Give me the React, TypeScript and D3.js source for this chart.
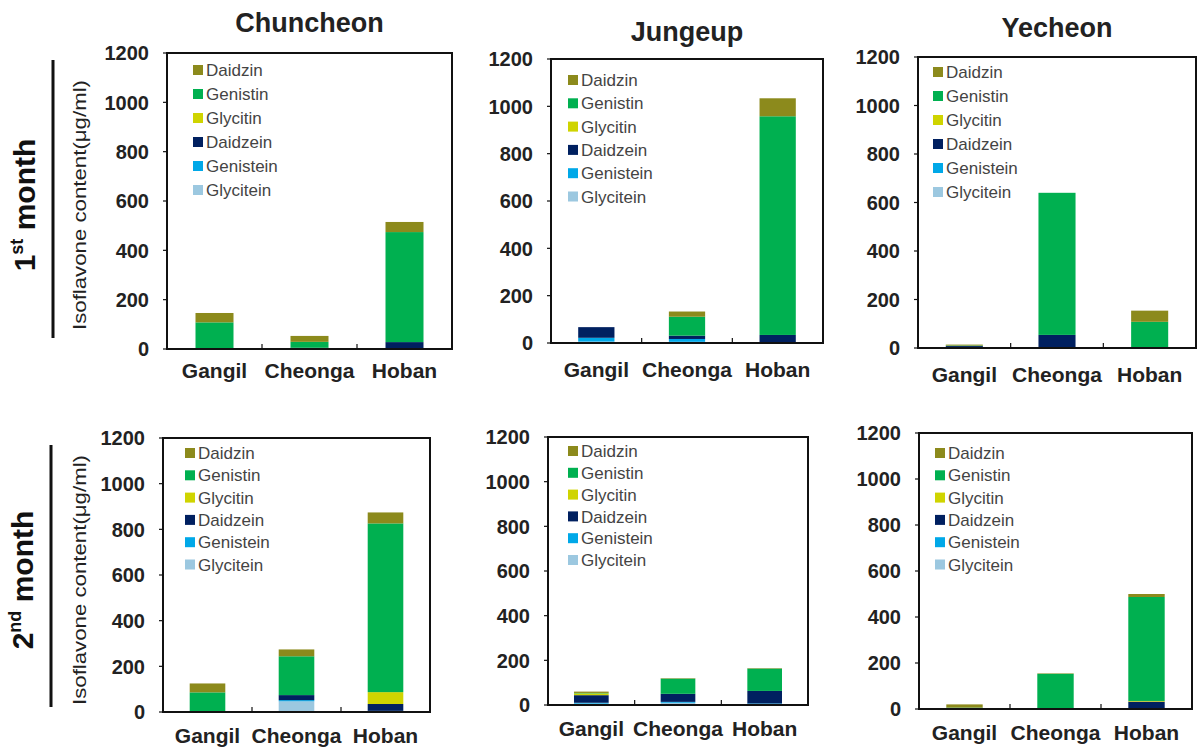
import React from 'react'
import * as d3 from 'd3'

const varieties = ['Gangil', 'Cheonga', 'Hoban']
const compounds = ['Daidzin', 'Genistin', 'Glycitin', 'Daidzein', 'Genistein', 'Glycitein']
const compoundColors = ['#8c8a1c', '#00b050', '#cfd400', '#002060', '#00a8e8', '#9cc8e0']
const yTicks = [0, 200, 400, 600, 800, 1000, 1200]

// rows follow compounds order, columns follow varieties
const chuncheon1st = [
  [38, 24, 41],
  [105, 24, 446],
  [0, 0, 0],
  [2, 3, 25],
  [1, 2, 3],
  [0, 0, 0],
]
const jungeup1st = [
  [0, 22, 76],
  [0, 80, 924],
  [0, 0, 0],
  [45, 14, 30],
  [16, 12, 4],
  [6, 5, 0],
]
const yecheon1st = [
  [4, 0, 46],
  [2, 586, 106],
  [0, 0, 0],
  [8, 50, 0],
  [0, 4, 2],
  [0, 0, 0],
]
const chuncheon2nd = [
  [39, 30, 48],
  [85, 170, 739],
  [0, 0, 52],
  [0, 22, 30],
  [0, 5, 3],
  [1, 47, 2],
]
const jungeup2nd = [
  [6, 2, 2],
  [2, 68, 100],
  [8, 0, 0],
  [34, 36, 56],
  [4, 4, 3],
  [6, 10, 4],
]
const yecheon2nd = [
  [14, 2, 13],
  [2, 150, 452],
  [4, 3, 3],
  [0, 0, 32],
  [0, 0, 0],
  [0, 0, 0],
]

const FONT = '"Liberation Sans", Arial, Helvetica, sans-serif'

type Panel = {
  values: number[][]
  title?: string
  titleY?: number
  left: number; top: number; right: number; bottom: number
  lgX: number; lgY: number; lgStep: number
  labelY: number
}

const panels: Panel[] = [
  { values: chuncheon1st, title: 'Chuncheon', titleY: 32, left: 167, top: 53, right: 452, bottom: 349, lgX: 26, lgY: 17, lgStep: 24, labelY: 378 },
  { values: jungeup1st, title: 'Jungeup', titleY: 41, left: 551, top: 59, right: 823, bottom: 343, lgX: 17, lgY: 21, lgStep: 23.3, labelY: 377 },
  { values: yecheon1st, title: 'Yecheon', titleY: 37, left: 918, top: 57, right: 1196, bottom: 348, lgX: 15, lgY: 15, lgStep: 24, labelY: 382 },
  { values: chuncheon2nd, left: 163, top: 438, right: 430, bottom: 712, lgX: 22, lgY: 15, lgStep: 22.3, labelY: 743 },
  { values: jungeup2nd, left: 548, top: 437, right: 808, bottom: 705, lgX: 20, lgY: 14, lgStep: 21.8, labelY: 736 },
  { values: yecheon2nd, left: 919, top: 433, right: 1192, bottom: 709, lgX: 16, lgY: 20, lgStep: 22.3, labelY: 740 },
]

function StackPanel({ p }: { p: Panel }) {
  const x = d3.scaleBand<string>().domain(varieties).range([p.left, p.right]).paddingInner(0.6).paddingOuter(0.3)
  const y = d3.scaleLinear().domain([0, 1200]).range([p.bottom, p.top])
  const rows = varieties.map((v, i) => {
    const r: Record<string, any> = { variety: v }
    compounds.forEach((c, k) => { r[c] = p.values[k][i] })
    return r
  })
  // Excel stacks first series at bottom; legend lists them reversed
  const stackKeys = compounds.slice().reverse()
  const layers = d3.stack<any>().keys(stackKeys)(rows)
  const color = d3.scaleOrdinal<string, string>().domain(compounds).range(compoundColors)
  const step = (p.right - p.left) / varieties.length

  return (
    <g>
      {layers.map(layer => (
        <g key={layer.key} fill={color(layer.key)}>
          {layer.map((d, i) => (
            <rect key={i} x={x(varieties[i])} width={x.bandwidth()} y={y(d[1])} height={Math.max(0, y(d[0]) - y(d[1]))} />
          ))}
        </g>
      ))}
      <rect x={p.left} y={p.top} width={p.right - p.left} height={p.bottom - p.top} fill="none" stroke="#111" strokeWidth={2} />
      {yTicks.map(t => (
        <g key={t}>
          <line x1={p.left - 4} x2={p.left} y1={y(t)} y2={y(t)} stroke="#111" strokeWidth={1.2} />
          <text x={p.left - 18} y={y(t)} dy="0.36em" textAnchor="end" fontFamily={FONT} fontWeight="bold" fontSize={20} fill="#222">{t}</text>
        </g>
      ))}
      {[1, 2].map(i => (
        <line key={i} x1={p.left + step * i} x2={p.left + step * i} y1={p.bottom} y2={p.bottom - 5} stroke="#111" strokeWidth={1.2} />
      ))}
      {varieties.map(v => (
        <text key={v} x={(x(v) ?? 0) + x.bandwidth() / 2} y={p.labelY} textAnchor="middle" fontFamily={FONT} fontWeight="bold" fontSize={21} fill="#222">{v}</text>
      ))}
      {p.title && (
        <text x={(p.left + p.right) / 2} y={p.titleY} textAnchor="middle" fontFamily={FONT} fontWeight="bold" fontSize={27} fill="#222">{p.title}</text>
      )}
      {compounds.map((c, k) => (
        <g key={c} transform={`translate(${p.left + p.lgX},${p.top + p.lgY + k * p.lgStep})`}>
          <rect x={0} y={-5} width={10} height={10} fill={color(c)} />
          <text x={13} y={0} dy="0.36em" fontFamily={FONT} fontSize={17} fill="#444">{c}</text>
        </g>
      ))}
    </g>
  )
}

function RowLabel({ cx, cy, ord, barX, y1, y2, titleX }: { cx: number; cy: number; ord: string; barX: number; y1: number; y2: number; titleX: number }) {
  return (
    <g>
      <text transform={`translate(${cx},${cy}) rotate(-90)`} textAnchor="middle" fontFamily={FONT} fontWeight="bold" fontSize={30} fill="#111">
        {ord[0]}<tspan fontSize={18} dy={-12}>{ord.slice(1)}</tspan><tspan dy={12}> month</tspan>
      </text>
      <line x1={barX} x2={barX} y1={y1} y2={y2} stroke="#111" strokeWidth={3} />
      <text transform={`translate(${titleX},${cy}) rotate(-90)`} textAnchor="middle" fontFamily={FONT} fontSize={19} fill="#222" textLength={250} lengthAdjust="spacingAndGlyphs">Isoflavone content(μg/ml)</text>
    </g>
  )
}

export default function App() {
  return (
    <svg width={1200} height={748} style={{ position: 'absolute', left: 0, top: 0, background: '#fff' }}>
      <RowLabel cx={35} cy={205} ord="1st" barX={53} y1={60} y2={338} titleX={86} />
      <RowLabel cx={33} cy={580} ord="2nd" barX={51} y1={445} y2={707} titleX={86} />
      {panels.map((p, i) => <StackPanel key={i} p={p} />)}
    </svg>
  )
}
